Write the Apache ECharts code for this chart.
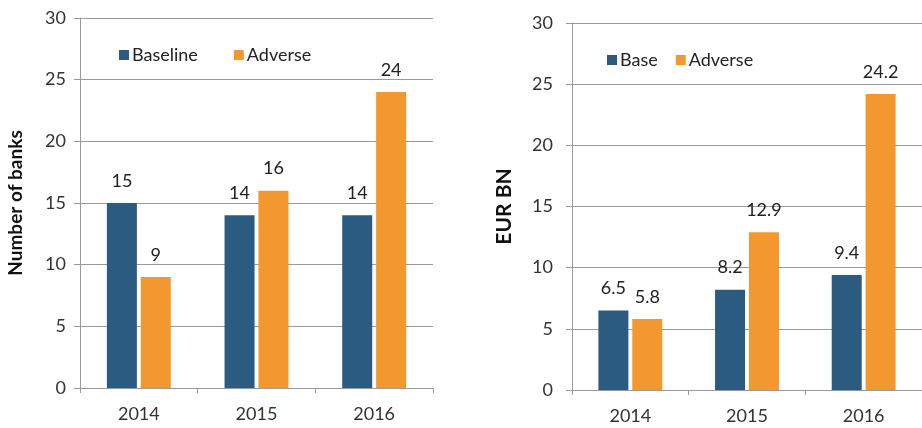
<!DOCTYPE html>
<html>
<head>
<meta charset="utf-8">
<script src="https://cdn.jsdelivr.net/npm/echarts@6/dist/echarts.min.js"></script>
<style>
  html, body { margin: 0; padding: 0; background: #fff; }
  #chart { width: 922px; height: 428px; }
</style>
</head>
<body>
<div id="chart"></div>
<script>
const years = ['2014', '2015', '2016']

// left panel: number of banks
const banksBaseline = [15, 14, 14]
const banksAdverse = [9, 16, 24]

// right panel: EUR BN
const eurBase = [6.5, 8.2, 9.4]
const eurAdverse = [5.8, 12.9, 24.2]

const blue = '#2c5b82'
const orange = '#f3982e'
const font = 'Lato, "Open Sans", sans-serif'

const yAxisCommon = {
  type: 'value',
  min: 0,
  max: 30,
  interval: 5,
  nameLocation: 'middle',
  nameRotate: 90,
  nameTextStyle: { color: '#111', fontSize: 19, fontWeight: 'bold', fontFamily: font },
  axisLine: { show: true, lineStyle: { color: '#999' } },
  axisTick: { show: true, length: 6, lineStyle: { color: '#999' } },
  axisLabel: { color: '#333', fontSize: 18, fontFamily: font },
  splitLine: { lineStyle: { color: '#9a9a9a', width: 1 } }
}

const xAxisCommon = {
  type: 'category',
  data: years,
  axisLine: { lineStyle: { color: '#999' } },
  axisTick: { show: true, length: 5, lineStyle: { color: '#999' } },
  axisLabel: { color: '#333', fontSize: 18, fontFamily: font, margin: 17 }
}

const labelStyle = {
  show: true,
  position: 'top',
  distance: 13,
  color: '#222',
  fontSize: 18,
  fontFamily: font
}

function barSeries(name, data, color, idx) {
  return {
    name: name,
    type: 'bar',
    xAxisIndex: idx,
    yAxisIndex: idx,
    data: data,
    barWidth: 30,
    barGap: '13%',
    itemStyle: { color: color },
    label: labelStyle
  }
}

const legendText = { color: '#222', fontSize: 18, fontFamily: font, padding: [0, 0, 0, -2] }

const chart = echarts.init(document.getElementById('chart'))
chart.setOption({
  animation: false,
  backgroundColor: '#fff',
  grid: [
    { left: 80, right: 489, top: 18, bottom: 40 },
    { left: 572, right: -6, top: 23, bottom: 38 }
  ],
  legend: [
    {
      data: ['Baseline', 'Adverse'],
      left: 114, top: 41,
      itemWidth: 10, itemHeight: 10, itemGap: 36,
      icon: 'rect',
      textStyle: legendText
    },
    {
      data: ['Base', 'Adverse'],
      left: 602, top: 46,
      itemWidth: 10, itemHeight: 10, itemGap: 18,
      icon: 'rect',
      textStyle: legendText
    }
  ],
  xAxis: [
    Object.assign({ gridIndex: 0 }, xAxisCommon),
    Object.assign({ gridIndex: 1 }, xAxisCommon)
  ],
  yAxis: [
    Object.assign({}, yAxisCommon, { gridIndex: 0, name: 'Number of banks', nameGap: 55,
      axisLabel: Object.assign({}, yAxisCommon.axisLabel, { margin: 14 }) }),
    Object.assign({}, yAxisCommon, { gridIndex: 1, name: 'EUR BN', nameGap: 57,
      nameTextStyle: Object.assign({}, yAxisCommon.nameTextStyle, { fontSize: 21 }),
      axisLabel: Object.assign({}, yAxisCommon.axisLabel, { margin: 19 }) })
  ],
  series: [
    barSeries('Baseline', banksBaseline, blue, 0),
    barSeries('Adverse', banksAdverse, orange, 0),
    barSeries('Base', eurBase, blue, 1),
    barSeries('Adverse', eurAdverse, orange, 1)
  ]
})
</script>
</body>
</html>
